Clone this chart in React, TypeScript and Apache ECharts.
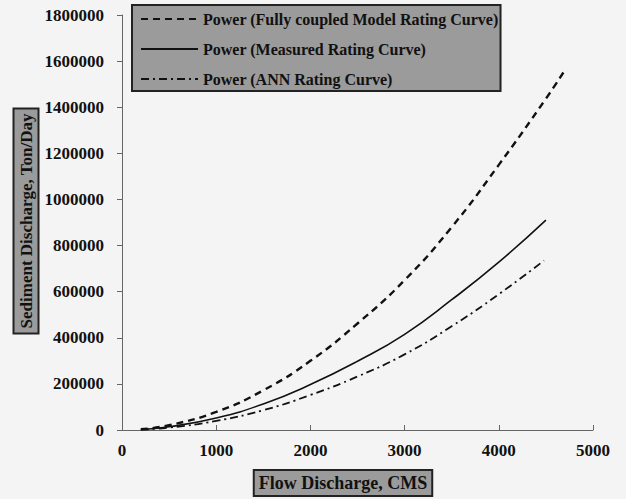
import React, { useEffect, useRef } from "react";
import * as echarts from "echarts";

const flowCoupled = [200, 500, 1000, 1500, 2000, 2500, 3000, 3500, 4000, 4500, 4700];
const sedCoupled = [3500, 20700, 78700, 172000, 300000, 462000, 650000, 880000, 1150000, 1437000, 1560000];

const flowMeasured = [200, 500, 1000, 1500, 2000, 2500, 3000, 3500, 4000, 4500];
const sedMeasured = [2400, 14000, 52000, 113000, 197000, 298000, 415000, 565000, 728000, 910000];

const flowANN = [200, 500, 1000, 1500, 2000, 2500, 3000, 3500, 4000, 4480];
const sedANN = [1700, 10200, 39500, 86000, 152000, 232000, 328000, 450000, 589000, 735000];

const seriesNames = [
  "Power (Fully coupled Model Rating Curve)",
  "Power (Measured Rating Curve)",
  "Power (ANN Rating Curve)",
];

const xTitle = "Flow Discharge, CMS";
const yTitle = "Sediment Discharge, Ton/Day";

const FONT = "'Liberation Serif', 'Times New Roman', serif";

const zip = (xs: number[], ys: number[]) => xs.map((x, i) => [x, ys[i]]);

export default function App() {
  const ref = useRef<HTMLDivElement>(null);
  useEffect(() => {
    if (!ref.current) return;
    const chart = echarts.init(ref.current, null, { renderer: "svg" });
    chart.setOption({
      animation: false,
      backgroundColor: "#f4f4f4",
      grid: { left: 122, right: 33, top: 15, bottom: 69 },
      legend: {
        orient: "vertical",
        left: 132,
        top: 5,
        padding: [6, 2, 4, 8],
        itemGap: 14,
        itemWidth: 57,
        itemHeight: 17,
        backgroundColor: "#9b9b9b",
        borderColor: "#222",
        borderWidth: 2,
        itemStyle: { opacity: 0 },
        textStyle: { fontFamily: FONT, fontWeight: "bold", fontSize: 16, color: "#111" },
        data: seriesNames,
      },
      xAxis: {
        type: "value",
        min: 0,
        max: 5000,
        interval: 1000,
        axisLine: { lineStyle: { color: "#666", width: 1 } },
        axisTick: { inside: true, length: 5, lineStyle: { color: "#666" } },
        axisLabel: {
          fontFamily: FONT,
          fontWeight: "bold",
          fontSize: 17,
          color: "#111",
          margin: 12,
          formatter: (v: number) => String(v),
        },
        splitLine: { show: false },
      },
      yAxis: {
        type: "value",
        min: 0,
        max: 1800000,
        interval: 200000,
        axisLine: { show: true, lineStyle: { color: "#666", width: 1 } },
        axisTick: { show: true, inside: false, length: 5, lineStyle: { color: "#666" } },
        axisLabel: {
          fontFamily: FONT,
          fontWeight: "bold",
          fontSize: 17,
          color: "#111",
          margin: 18,
          formatter: (v: number) => String(v),
        },
        splitLine: { show: false },
      },
      graphic: [
        {
          type: "text",
          x: 343,
          y: 483,
          style: {
            text: xTitle,
            fontFamily: FONT,
            fontWeight: "bold",
            fontSize: 18,
            fill: "#111",
            align: "center",
            verticalAlign: "middle",
            backgroundColor: "#9b9b9b",
            borderColor: "#222",
            borderWidth: 2,
            padding: [4, 4, 2, 4],
          },
        },
        {
          type: "text",
          x: 26,
          y: 221,
          rotation: Math.PI / 2,
          style: {
            text: yTitle,
            fontFamily: FONT,
            fontWeight: "bold",
            fontSize: 17,
            fill: "#111",
            align: "center",
            verticalAlign: "middle",
            backgroundColor: "#9b9b9b",
            borderColor: "#222",
            borderWidth: 2,
            padding: [4, 4, 2, 4],
          },
        },
      ],
      series: [
        {
          name: seriesNames[0],
          type: "line",
          smooth: true,
          symbol: "none",
          data: zip(flowCoupled, sedCoupled),
          lineStyle: { color: "#111", width: 2.4, type: [7, 5] },
          itemStyle: { color: "#111" },
        },
        {
          name: seriesNames[1],
          type: "line",
          smooth: true,
          symbol: "none",
          data: zip(flowMeasured, sedMeasured),
          lineStyle: { color: "#111", width: 1.6, type: "solid" },
          itemStyle: { color: "#111" },
        },
        {
          name: seriesNames[2],
          type: "line",
          smooth: true,
          symbol: "none",
          data: zip(flowANN, sedANN),
          lineStyle: { color: "#111", width: 1.8, type: [8, 4, 2, 4] },
          itemStyle: { color: "#111" },
        },
      ],
    });
    return () => chart.dispose();
  }, []);
  return <div ref={ref} style={{ position: "fixed", left: 0, top: 0, width: 626, height: 499 }} />;
}
